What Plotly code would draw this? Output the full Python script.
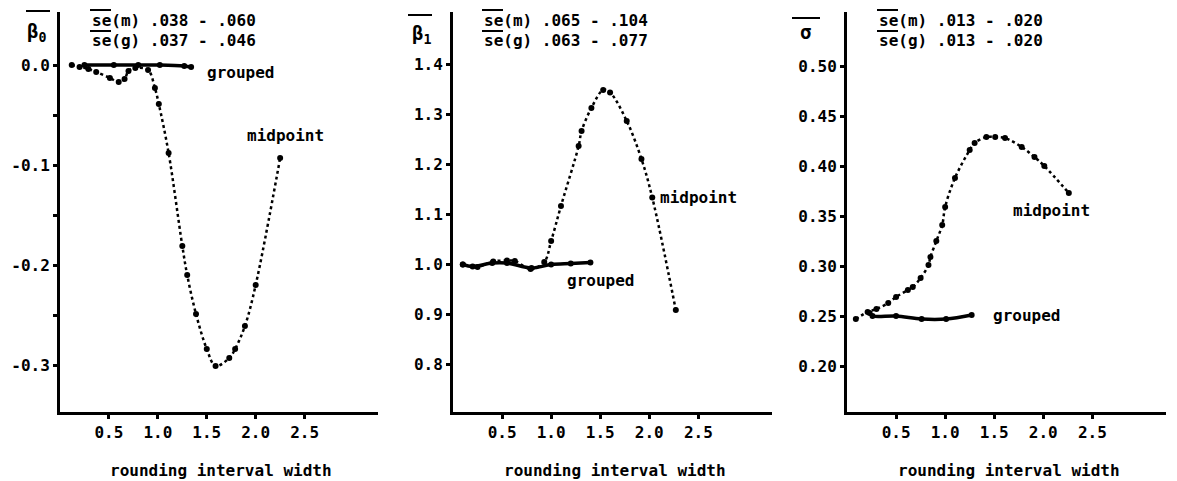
import plotly.graph_objects as go

W, H = 1177, 481

# ---------------- data ----------------
# Panel 1: beta0
b0_mid_x = [0.12, 0.2, 0.29, 0.37, 0.51, 0.6, 0.66, 0.7, 0.77, 0.9, 0.97, 1.01, 1.11,
            1.25, 1.3, 1.39, 1.5, 1.59, 1.73, 1.79, 1.89, 2.0, 2.25]
b0_mid_y = [0.0, -0.002, -0.004, -0.007, -0.013, -0.017, -0.014, -0.006, -0.003, -0.005,
            -0.023, -0.039, -0.088, -0.181, -0.21, -0.249, -0.284, -0.301, -0.293, -0.284,
            -0.261, -0.22, -0.093]
b0_grp_x = [0.25, 0.55, 0.8, 1.02, 1.27, 1.34]
b0_grp_y = [0.0, 0.0, 0.0, 0.0, -0.001, -0.002]

# Panel 2: beta1
b1_mid_x = [0.1, 0.25, 0.41, 0.55, 0.63, 0.79, 0.93, 1.0, 1.10, 1.28, 1.31, 1.41, 1.53,
            1.60, 1.77, 1.92, 2.03, 2.27]
b1_mid_y = [1.0, 0.995, 1.006, 1.008, 1.007, 0.991, 1.005, 1.047, 1.117, 1.237, 1.267,
            1.313, 1.349, 1.344, 1.287, 1.211, 1.134, 0.909]
b1_grp_x = [0.1, 0.2, 0.4, 0.55, 0.8, 1.0, 1.2, 1.4]
b1_grp_y = [1.0, 0.996, 1.003, 1.003, 0.993, 1.0, 1.002, 1.004]

# Panel 3: sigma
sg_mid_x = [0.09, 0.21, 0.3, 0.42, 0.5, 0.62, 0.67, 0.75, 0.83, 0.85, 0.91, 0.97, 1.0,
            1.10, 1.25, 1.30, 1.42, 1.51, 1.61, 1.78, 1.91, 2.01, 2.26]
sg_mid_y = [0.247, 0.254, 0.257, 0.263, 0.269, 0.276, 0.279, 0.288, 0.301, 0.309, 0.325,
            0.341, 0.359, 0.388, 0.416, 0.423, 0.429, 0.429, 0.428, 0.419, 0.409, 0.400,
            0.373]
sg_grp_x = [0.23, 0.26, 0.5, 0.76, 1.01, 1.27]
sg_grp_y = [0.253, 0.25, 0.25, 0.247, 0.247, 0.251]

# ticks
x_tickvals = [0.5, 1.0, 1.5, 2.0, 2.5]
x_ticktext = ["0.5", "1.0", "1.5", "2.0", "2.5"]
y1_tickvals = [0.0, -0.1, -0.2, -0.3]
y1_ticktext = ["0.0", "-0.1", "-0.2", "-0.3"]
y1_minorvals = [-0.05, -0.15, -0.25]
y2_tickvals = [0.8, 0.9, 1.0, 1.1, 1.2, 1.3, 1.4]
y2_ticktext = ["0.8", "0.9", "1.0", "1.1", "1.2", "1.3", "1.4"]
y3_tickvals = [0.20, 0.25, 0.30, 0.35, 0.40, 0.45, 0.50]
y3_ticktext = ["0.20", "0.25", "0.30", "0.35", "0.40", "0.45", "0.50"]

se_texts = [
    ["se(m) .038 - .060", "se(g) .037 - .046"],
    ["se(m) .065 - .104", "se(g) .063 - .077"],
    ["se(m) .013 - .020", "se(g) .013 - .020"],
]
param_labels = ["<b>β<sub>0</sub></b>", "<b>β<sub>1</sub></b>", "<b>σ</b>"]
xtitle = "rounding interval width"

# ---------------- layout helpers ----------------
FONT = "DejaVu Sans Mono"
FS = 16
def px_x(p):
    return p / W
def px_y(p):
    return 1 - p / H

panels = [
    dict(x0=60, x1=378, yr=[-0.347, 0.053], tv=y1_tickvals, tt=y1_ticktext, minor=y1_minorvals,
         mid=(b0_mid_x, b0_mid_y), grp=(b0_grp_x, b0_grp_y),
         lab_mid=(1.89, -0.070), lab_grp=(1.48, -0.007),
         se_x=90, plab=(36, 33), oline=(26, 50, 11), se_ol=[(90, 111, 10), (90, 111, 31)]),
    dict(x0=453, x1=772, yr=[0.705, 1.505], tv=y2_tickvals, tt=y2_ticktext, minor=None,
         mid=(b1_mid_x, b1_mid_y), grp=(b1_grp_x, b1_grp_y),
         lab_mid=(2.09, 1.134), lab_grp=(1.14, 0.968),
         se_x=482, plab=(421, 34), oline=(408, 432, 15), se_ol=[(482, 503, 10), (482, 503, 31)]),
    dict(x0=847, x1=1166, yr=[0.154, 0.554], tv=y3_tickvals, tt=y3_ticktext, minor=None,
         mid=(sg_mid_x, sg_mid_y), grp=(sg_grp_x, sg_grp_y),
         lab_mid=(1.67, 0.356), lab_grp=(1.47, 0.251),
         se_x=877, plab=(805, 32), oline=(792, 820, 18), se_ol=[(877, 898, 10), (877, 898, 31)]),
]

fig = go.Figure()
layout = dict(width=W, height=H, margin=dict(l=0, r=0, t=0, b=0),
              paper_bgcolor="white", plot_bgcolor="white", showlegend=False,
              font=dict(family=FONT, size=FS, color="black"))
annotations = []
shapes = []

for i, p in enumerate(panels):
    n = "" if i == 0 else str(i + 1)
    xa, ya = "x" + n, "y" + n
    fig.add_trace(go.Scatter(x=p["mid"][0], y=p["mid"][1], mode="lines+markers",
                             line=dict(color="black", width=2.5, dash="dot", shape="spline"),
                             marker=dict(color="black", size=6),
                             xaxis=xa, yaxis=ya, cliponaxis=False))
    fig.add_trace(go.Scatter(x=p["grp"][0], y=p["grp"][1], mode="lines+markers",
                             line=dict(color="black", width=3.5, shape="spline"),
                             marker=dict(color="black", size=6),
                             xaxis=xa, yaxis=ya, cliponaxis=False))
    layout["xaxis" + n] = dict(domain=[px_x(p["x0"]), px_x(p["x1"])], range=[0, 3.25],
                               anchor=ya, showline=True, linewidth=3, linecolor="black",
                               showgrid=False, zeroline=False, ticks="outside", ticklen=4,
                               tickwidth=3, tickcolor="black", tickvals=x_tickvals,
                               ticktext=x_ticktext,
                               tickfont=dict(family=FONT, size=FS, weight="bold"))
    ydict = dict(domain=[px_y(412), px_y(12)], range=p["yr"],
                 anchor=xa, showline=True, linewidth=3, linecolor="black",
                 showgrid=False, zeroline=False, ticks="outside", ticklen=4,
                 tickwidth=3, tickcolor="black", tickvals=p["tv"],
                 ticktext=p["tt"],
                 tickfont=dict(family=FONT, size=FS, weight="bold"))
    if p["minor"]:
        ydict["minor"] = dict(tickvals=p["minor"], ticks="outside", ticklen=4,
                              tickwidth=3, tickcolor="black", showgrid=False)
    layout["yaxis" + n] = ydict
    # curve labels
    annotations.append(dict(x=p["lab_mid"][0], y=p["lab_mid"][1], xref=xa, yref=ya,
                            text="midpoint", showarrow=False, xanchor="left", yanchor="middle",
                            font=dict(family=FONT, size=FS, weight="bold")))
    annotations.append(dict(x=p["lab_grp"][0], y=p["lab_grp"][1], xref=xa, yref=ya,
                            text="grouped", showarrow=False, xanchor="left", yanchor="middle",
                            font=dict(family=FONT, size=FS, weight="bold")))
    # se text
    for k, t in enumerate(se_texts[i]):
        annotations.append(dict(x=px_x(p["se_x"]), y=px_y(20 + 21 * k), xref="paper",
                                yref="paper", text=t, showarrow=False, xanchor="left",
                                yanchor="middle",
                                font=dict(family=FONT, size=FS, weight="bold")))
    for (a, b, yy) in p["se_ol"]:
        shapes.append(dict(type="line", xref="paper", yref="paper", x0=px_x(a), x1=px_x(b),
                           y0=px_y(yy), y1=px_y(yy), line=dict(color="black", width=2)))
    # parameter label
    annotations.append(dict(x=px_x(p["plab"][0]), y=px_y(p["plab"][1]), xref="paper",
                            yref="paper", text=param_labels[i], showarrow=False,
                            xanchor="center", yanchor="middle",
                            font=dict(family=FONT, size=19, weight="bold")))
    a, b, yy = p["oline"]
    shapes.append(dict(type="line", xref="paper", yref="paper", x0=px_x(a), x1=px_x(b),
                       y0=px_y(yy), y1=px_y(yy), line=dict(color="black", width=2)))
    # x title
    annotations.append(dict(x=px_x((p["x0"] + p["x1"]) / 2 + 2), y=px_y(470), xref="paper",
                            yref="paper", text=xtitle, showarrow=False, xanchor="center",
                            yanchor="middle",
                            font=dict(family=FONT, size=FS, weight="bold")))

layout["annotations"] = annotations
layout["shapes"] = shapes
fig.update_layout(**layout)
fig.write_html("out.html")
